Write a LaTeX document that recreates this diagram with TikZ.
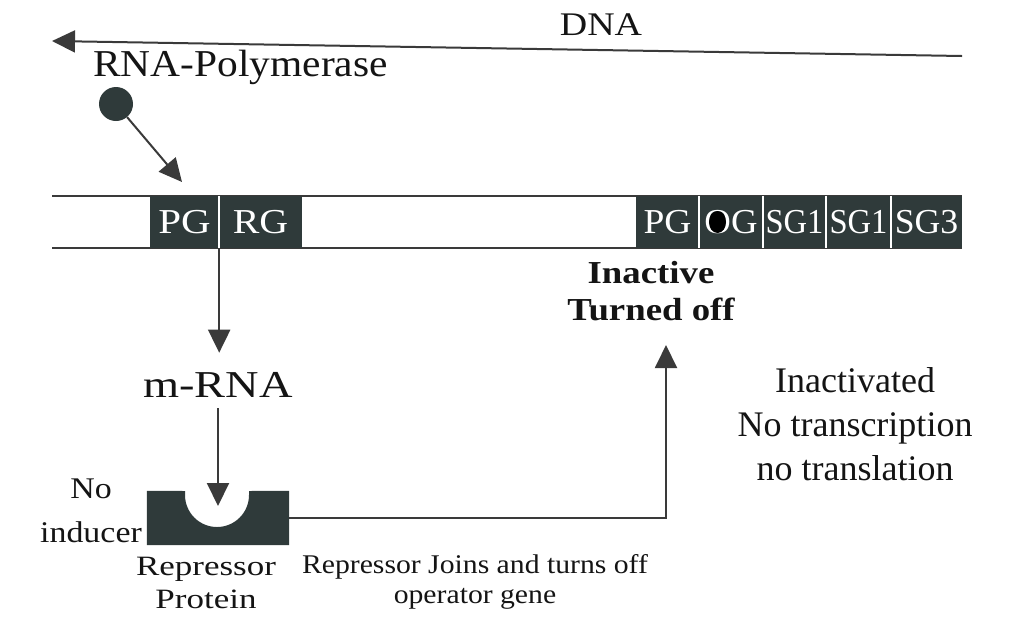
\documentclass[tikz,border=0pt]{standalone}
\usepackage{fontspec}
\setmainfont{Liberation Serif}
\usepackage{graphicx}
\usetikzlibrary{arrows.meta}
\definecolor{gene}{HTML}{2F3A3A}
\definecolor{ink}{HTML}{3A3A3A}
\definecolor{txt}{HTML}{141414}
\newcommand{\sxt}[2]{\scalebox{#1}[1]{\begin{tabular}[b]{@{}c@{}}#2\end{tabular}}}
\newcommand{\fsz}[2]{\fontsize{#1}{#2}\selectfont}
\begin{document}
\begin{tikzpicture}[x=1pt,y=-1pt,
  arr/.style={draw=ink,line width=2pt,-{Triangle[length=23pt,width=22pt]}},
  strip/.style={draw=ink,line width=1.8pt},
  genebox/.style={fill=gene,text=white,inner sep=0pt,minimum height=52pt,font=\fsz{35}{40}},
  sepline/.style={draw=white,line width=1.5pt},
  lbl/.style={text=txt,inner sep=0pt,anchor=base}
]
\useasboundingbox (0,0) rectangle (1024,625);

% DNA strand
\coordinate (dnaR) at (962,56);
\coordinate (dnaL) at (52,41);
\draw[arr] (dnaR) -- (dnaL);
\node[lbl,font=\fsz{33}{40}] (dna) at (601,35) {\scalebox{1.15}[1]{DNA}};

% RNA polymerase
\node[lbl,anchor=base west,font=\fsz{38}{44}] (polname) at (93,76) {\scalebox{1.09}[1]{RNA-Polymerase}};
\node[circle,fill=gene,minimum size=34pt,inner sep=0pt] (pol) at (116,104) {};
\coordinate (polT) at (182,182);
\draw[arr] (pol) -- (polT);

% gene strip
\draw[strip] (52,196) -- (962,196);
\draw[strip] (52,248) -- (962,248);

\node[genebox,minimum width=69pt] (pg1) at (184.5,222) {\scalebox{1.17}[1]{PG}};
\node[genebox,minimum width=83pt] (rg) at (260.5,222) {\scalebox{1.14}[1]{RG}};

\node[genebox,minimum width=63pt] (pg2) at (667.5,222) {\scalebox{1.07}[1]{PG}};
\node[genebox,minimum width=64pt] (og) at (731,222) {\scalebox{1.05}[1]{OG}};
\node[genebox,minimum width=63pt] (sga) at (794.5,222) {\scalebox{0.93}[1]{SG1}};
\node[genebox,minimum width=65pt] (sgb) at (858.5,222) {\scalebox{0.93}[1]{SG1}};
\node[genebox,minimum width=71pt] (sgc) at (926.5,222) {\scalebox{1.02}[1]{SG3}};

\fill[black] (717.5,222) ellipse [x radius=8.5, y radius=11];

\draw[sepline] (pg1.north east) -- (pg1.south east);
\draw[sepline] (pg2.north east) -- (pg2.south east);
\draw[sepline] (og.north east) -- (og.south east);
\draw[sepline] (sga.north east) -- (sga.south east);
\draw[sepline] (sgb.north east) -- (sgb.south east);

% labels
\node[lbl,font=\fsz{32}{37}\bfseries] (off) at (651,320) {\sxt{1.15}{Inactive\\Turned off}};
\node[lbl,font=\fsz{36}{44}] (inact) at (855,480) {\sxt{1.0}{Inactivated\\No transcription\\no translation}};

% m-RNA
\node[lbl,font=\fsz{38}{44}] (mrna) at (218,397) {\scalebox{1.22}[1]{m-RNA}};
\draw[arr,shorten >=19pt] (pg1.south east) -- (pg1.south east |- mrna.north);

% repressor protein
\node[minimum width=142pt,minimum height=54pt,inner sep=0pt] (rep) at (218,518) {};
\fill[gene] (rep.north west) -- (185,491) -- (185,495) arc[start angle=180,end angle=0,radius=32]
  -- (249,491) -- (rep.north east) -- (rep.south east) -- (rep.south west) -- cycle;
\coordinate (notch) at (218,506);
\draw[arr,shorten <=11pt] (mrna.south) -- (notch);

\node[lbl,font=\fsz{30}{44}] (noind) at (91,542) {\sxt{1.13}{No\\inducer}};
\node[lbl,font=\fsz{28}{33}] (repname) at (206,608) {\sxt{1.25}{Repressor\\Protein}};
\node[lbl,font=\fsz{27}{30}] (joins) at (475,603) {\sxt{1.1}{Repressor Joins and turns off\\operator gene}};

% feedback arrow
\coordinate (offT) at (666,345);
\draw[arr] (rep.east) -| (offT);
\end{tikzpicture}
\end{document}
